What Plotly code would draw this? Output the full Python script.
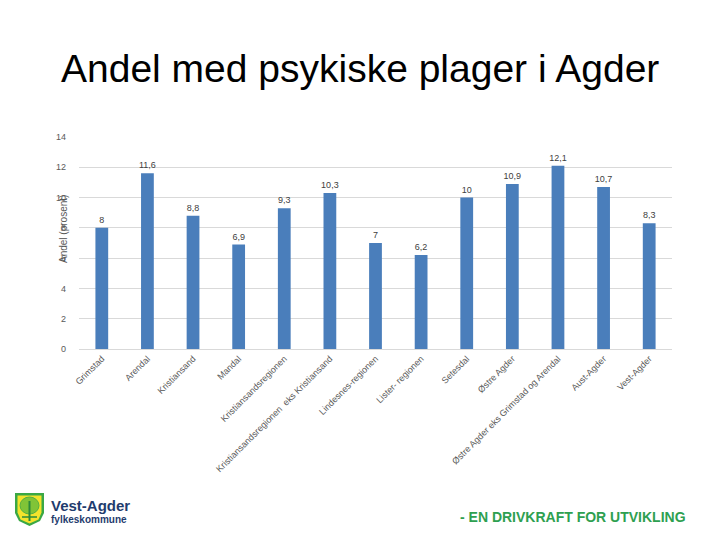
import plotly.graph_objects as go

categories = [
    "Grimstad", "Arendal", "Kristiansand", "Mandal", "Kristiansandsregionen",
    "Kristiansandsregionen  eks Kristiansand", "Lindesnes-regionen", "Lister- regionen",
    "Setesdal", "Østre Agder", "Østre Agder eks Grimstad og Arendal", "Aust-Agder", "Vest-Agder",
]
values = [8, 11.6, 8.8, 6.9, 9.3, 10.3, 7, 6.2, 10, 10.9, 12.1, 10.7, 8.3]
value_labels = [str(v).replace(".", ",") for v in values]
y_ticks = [0, 2, 4, 6, 8, 10, 12, 14]

OFF = 8  # page body margin
W, H = 720 - OFF, 540 - OFF
L, R, T, B = 79 - OFF, 672 - OFF, 137 - OFF, 349 - OFF


def px(x):
    return (x - OFF - L) / (R - L)


def py(y):
    return (B - (y - OFF)) / (B - T)


fig = go.Figure(go.Bar(
    x=categories, y=values, width=0.28,
    marker=dict(color="#4a7ebb", line=dict(width=0)),
    text=value_labels, textposition="outside", cliponaxis=False,
    constraintext="none",
    textfont=dict(family="Liberation Sans, Arial", size=9, color="#404040"),
))

fig.update_layout(
    width=W, height=H,
    margin=dict(l=L, r=W - R, t=T, b=H - B, autoexpand=False),
    paper_bgcolor="white", plot_bgcolor="white",
    showlegend=False,
    font=dict(family="Liberation Sans, Arial", color="#595959"),
    xaxis=dict(
        tickangle=-45, tickfont=dict(size=9, color="#595959"),
        showline=True, linecolor="#d9d9d9", linewidth=1, ticks="",
        showgrid=False,
    ),
    yaxis=dict(
        range=[0, 14], tickvals=y_ticks, tickfont=dict(size=9, color="#595959"),
        showgrid=True, gridcolor="#d9d9d9", gridwidth=1, zeroline=False,
        showline=False, ticks="", ticklabelstandoff=12,
    ),
)

annotations = [
    dict(text="Andel med psykiske plager i Agder", x=px(360), y=py(68),
         xref="paper", yref="paper", showarrow=False, xanchor="center", yanchor="middle",
         font=dict(family="Liberation Sans, Arial", size=39, color="black")),
    dict(text="Andel (prosent)", x=px(63), y=py(229), textangle=-90,
         xref="paper", yref="paper", showarrow=False, xanchor="center", yanchor="middle",
         font=dict(family="Liberation Sans, Arial", size=10, color="#595959")),
    dict(text="<b>- EN DRIVKRAFT FOR UTVIKLING</b>", x=px(688), y=py(516.5),
         xref="paper", yref="paper", showarrow=False, xanchor="right", yanchor="middle",
         font=dict(family="Liberation Sans, Arial", size=14, color="#2ea050")),
    dict(text="<b>Vest-Agder</b>", x=px(49), y=py(505),
         xref="paper", yref="paper", showarrow=False, xanchor="left", yanchor="middle",
         font=dict(family="Liberation Sans, Arial", size=15, color="#1f3c6e")),
    dict(text="<b>fylkeskommune</b>", x=px(49), y=py(519),
         xref="paper", yref="paper", showarrow=False, xanchor="left", yanchor="middle",
         font=dict(family="Liberation Sans, Arial", size=10, color="#1f3c6e")),
]
fig.update_layout(annotations=annotations)


def path(points):
    return "M " + " L ".join(f"{px(x):.5f},{py(y):.5f}" for x, y in points) + " Z"


shapes = []
shield = [(15, 493), (44, 493), (44, 513), (40, 521), (29.5, 526), (19, 521), (15, 513)]
shapes.append(dict(type="path", path=path(shield), xref="paper", yref="paper",
                   fillcolor="#3aa845", line=dict(width=0)))
inner = [(17.5, 495.5), (41.5, 495.5), (41.5, 512.5), (38.5, 519.5), (29.5, 523.5), (20.5, 519.5), (17.5, 512.5)]
shapes.append(dict(type="path", path=path(inner), xref="paper", yref="paper",
                   fillcolor="#f3e32c", line=dict(width=0)))
shapes.append(dict(type="circle", xref="paper", yref="paper",
                   x0=px(20), x1=px(39), y0=py(514), y1=py(497),
                   fillcolor="#6cbf3a", line=dict(color="#3aa845", width=1), opacity=0.85))
shapes.append(dict(type="line", xref="paper", yref="paper",
                   x0=px(29.5), x1=px(29.5), y0=py(521), y1=py(501),
                   line=dict(color="#2d8a3a", width=2)))
shapes.append(dict(type="line", xref="paper", yref="paper",
                   x0=px(22), x1=px(37), y0=py(517), y1=py(517),
                   line=dict(color="#2d8a3a", width=1.5)))
fig.update_layout(shapes=shapes)

fig.write_html("out.html")
